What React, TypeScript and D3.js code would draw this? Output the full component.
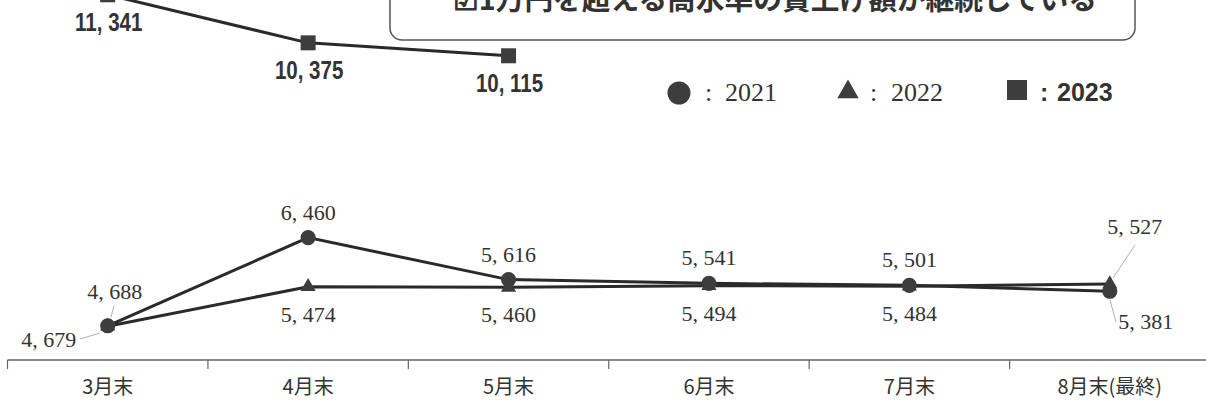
import React from 'react';
import * as d3 from 'd3';

const categories = ['3月末', '4月末', '5月末', '6月末', '7月末', '8月末(最終)'];
const values2021 = [4688, 6460, 5616, 5541, 5501, 5381];
const values2022 = [4679, 5474, 5460, 5494, 5484, 5527];
const values2023 = [11341, 10375, 10115];
const legendLabels = ['2021', '2022', '2023'];
const titleText = '☑1万円を超える高水準の賃上げ額が継続している';

const W = 1206;
const H = 406;

const fmt = (v: number) => d3.format(',')(v).replace(',', ', ');

// label offsets (style, relative to point)
const off2021 = [
  { dx: 7, dy: -27 },
  { dx: 0, dy: -18 },
  { dx: 0, dy: -18 },
  { dx: 0, dy: -18 },
  { dx: 0, dy: -18 },
  { dx: 36, dy: 38 },
];
const off2022 = [
  { dx: -59, dy: 21 },
  { dx: 0, dy: 35 },
  { dx: 0, dy: 35 },
  { dx: 0, dy: 35 },
  { dx: 0, dy: 35 },
  { dx: 25, dy: -50 },
];

export default function App() {
  const x = d3.scaleBand<string>().domain(categories).range([7.5, 1210]).paddingInner(0).paddingOuter(0);
  const y = d3.scaleLinear().domain([4000, 12000]).range([360, -38]);
  const cx = (c: string) => (x(c) as number) + x.bandwidth() / 2;

  const line = d3
    .line<number>()
    .x((_, i) => cx(categories[i]))
    .y((v) => y(v));

  const circleSym = d3.symbol().type(d3.symbolCircle).size(180)();
  const triSym = d3.symbol().type(d3.symbolTriangle).size(100)();
  const sqSym = d3.symbol().type(d3.symbolSquare).size(225)();

  const lineColor = '#2a2a2a';
  const markColor = '#3d3d3d';
  const serif = '"Liberation Serif", "DejaVu Serif", serif';
  const sans = '"Liberation Sans", Arial, sans-serif';
  const cjk = '"Noto Sans CJK JP", "Noto Sans", sans-serif';
  const leader = '#b0b0b0';

  const axisY = y(4000);

  return (
    <svg
      width={W}
      height={H}
      style={{ position: 'absolute', left: 0, top: 0, background: '#fff' }}
      xmlns="http://www.w3.org/2000/svg"
    >
      <rect x={0} y={0} width={W} height={H} fill="#fff" />

      {/* title box */}
      <rect x={390} y={-30} width={745} height={70} rx={12} ry={12} fill="#fff" stroke="#555" strokeWidth={1.5} />
      <text
        x={453}
        y={10}
        fontFamily={cjk}
        fontWeight={700}
        fontSize={29}
        fill="#333"
        textLength={644}
        lengthAdjust="spacingAndGlyphs"
      >
        {titleText}
      </text>

      {/* axis */}
      <line x1={x.range()[0]} x2={W} y1={axisY} y2={axisY} stroke="#666" strokeWidth={1.5} />
      {categories.map((c) => (
        <line key={'t' + c} x1={x(c)} x2={x(c)} y1={axisY} y2={axisY + 9} stroke="#666" strokeWidth={1.2} />
      ))}
      {categories.map((c) => (
        <text key={'l' + c} x={cx(c)} y={394} textAnchor="middle" fontFamily={cjk} fontSize={20} fill="#333">
          {c}
        </text>
      ))}

      {/* lines */}
      <path d={line(values2022) || ''} fill="none" stroke={lineColor} strokeWidth={3} />
      <path d={line(values2021) || ''} fill="none" stroke={lineColor} strokeWidth={3} />
      <path d={line(values2023) || ''} fill="none" stroke={lineColor} strokeWidth={3} />

      {/* markers */}
      {values2022.map((v, i) => (
        <path key={'m22' + i} d={triSym || ''} transform={`translate(${cx(categories[i])},${y(v)})`} fill={markColor} />
      ))}
      {values2021.map((v, i) => (
        <path key={'m21' + i} d={circleSym || ''} transform={`translate(${cx(categories[i])},${y(v)})`} fill={markColor} />
      ))}
      {values2023.map((v, i) => (
        <path key={'m23' + i} d={sqSym || ''} transform={`translate(${cx(categories[i])},${y(v)})`} fill={markColor} />
      ))}

      {/* leader lines */}
      <line x1={80} y1={339} x2={100} y2={333} stroke={leader} strokeWidth={1} />
      <line x1={114} y1={306} x2={111} y2={317} stroke={leader} strokeWidth={1} />
      <line x1={1135} y1={245} x2={1113} y2={278} stroke={leader} strokeWidth={1} />
      <line x1={1110} y1={300} x2={1116} y2={322} stroke={leader} strokeWidth={1} />

      {/* labels */}
      {values2021.map((v, i) => (
        <text
          key={'t21' + i}
          x={cx(categories[i]) + off2021[i].dx}
          y={y(v) + off2021[i].dy}
          textAnchor="middle"
          fontFamily={serif}
          fontSize={22}
          fill="#333"
        >
          {fmt(v)}
        </text>
      ))}
      {values2022.map((v, i) => (
        <text
          key={'t22' + i}
          x={cx(categories[i]) + off2022[i].dx}
          y={y(v) + off2022[i].dy}
          textAnchor="middle"
          fontFamily={serif}
          fontSize={22}
          fill="#333"
        >
          {fmt(v)}
        </text>
      ))}
      {values2023.map((v, i) => (
        <text
          key={'t23' + i}
          transform={`translate(${cx(categories[i]) + 1},${y(v) + 36}) scale(0.82,1)`}
          textAnchor="middle"
          fontFamily={sans}
          fontWeight={700}
          fontSize={25}
          fill="#333"
        >
          {fmt(v)}
        </text>
      ))}

      {/* legend */}
      <g>
        <path d={d3.symbol().type(d3.symbolCircle).size(415)() || ''} transform="translate(679,93)" fill={markColor} />
        <text x={705} y={101} fontFamily={serif} fontSize={26} fill="#333">:</text>
        <text x={725} y={101} fontFamily={serif} fontSize={26} fill="#333">
          {legendLabels[0]}
        </text>
        <path d={d3.symbol().type(d3.symbolTriangle).size(200)() || ''} transform="translate(848,92)" fill={markColor} />
        <text x={870} y={101} fontFamily={serif} fontSize={26} fill="#333">:</text>
        <text x={891} y={101} fontFamily={serif} fontSize={26} fill="#333">
          {legendLabels[1]}
        </text>
        <path d={d3.symbol().type(d3.symbolSquare).size(400)() || ''} transform="translate(1017,90)" fill={markColor} />
        <text x={1040} y={101} fontFamily={sans} fontWeight={700} fontSize={25} fill="#333">:</text>
        <text x={1057} y={101} fontFamily={sans} fontWeight={700} fontSize={25} fill="#333">
          {legendLabels[2]}
        </text>
      </g>
    </svg>
  );
}
